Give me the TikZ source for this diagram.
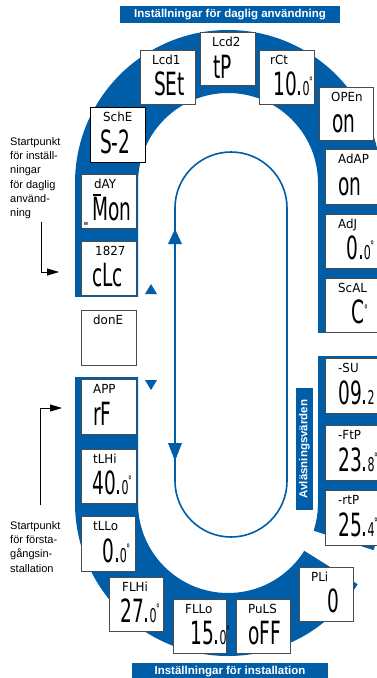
\documentclass[tikz,border=0pt]{standalone}
\usepackage{fontspec}
\setmainfont{Liberation Sans}
\newfontfamily\lcdS[FakeStretch=0.95]{DejaVu Sans}
\newfontfamily\lcdB[FakeStretch=0.58]{DejaVu Sans}
\usetikzlibrary{arrows.meta,calc}
\definecolor{ringblue}{RGB}{0,93,168}
\newcommand\dg[2]{#1.{\fontsize{19}{19}\selectfont #2}\kern-0.5pt\raisebox{9pt}{\fontsize{13}{13}\selectfont °}}
\newcommand\dn[2]{#1.{\fontsize{19}{19}\selectfont #2}}
\begin{document}
\begin{tikzpicture}[x=1pt,y=-1pt,
  lcd/.style={draw=black!70, fill=white, line width=0.9pt, inner sep=0pt, anchor=north west},
  lbl/.style={font=\lcdS\fontsize{12.5}{12.5}\selectfont, inner sep=0pt, anchor=north west},
  val/.style={font=\lcdB\fontsize{32}{32}\selectfont, inner sep=0pt, anchor=base west},
  bandlabel/.style={fill=ringblue, text=white, font=\bfseries\fontsize{11.5}{12}\selectfont, inner sep=0pt},
  sidetext/.style={font=\fontsize{11}{14.3}\selectfont, align=left, inner sep=0pt, anchor=north west},
  startarrow/.style={draw=black, line width=0.9pt, -{Triangle[length=12pt,width=7pt]}},
  track/.style={draw=ringblue, line width=1.6pt}
]
\useasboundingbox (0,0) rectangle (377,678);
\coordinate (tc) at (228,183);
\coordinate (bc) at (228,503);
% ring
\fill[ringblue, even odd rule]
  (75,503) -- (75,183) arc[start angle=180,end angle=360,radius=153] -- (381,503) arc[start angle=0,end angle=180,radius=153] -- cycle
  (138,503) -- (138,183) arc[start angle=180,end angle=360,radius=90] -- (318,503) arc[start angle=0,end angle=180,radius=90] -- cycle;
% gaps
\fill[white] (70,297) rectangle (141,377);
\fill[white] (315,333) rectangle (390,356);
\fill[white] ($(bc)+(18:86)$) -- ($(bc)+(18:180)$) -- ($(bc)+(32:180)$) -- ($(bc)+(32:86)$) -- cycle;
% inner track
\draw[track] (175,481) -- (175,208) arc[start angle=180,end angle=360,radius=56] -- (287,481) arc[start angle=0,end angle=180,radius=56] -- cycle;
\fill[ringblue] (175,229) -- (168,244) -- (182,244) -- cycle;
\fill[ringblue] (175,461) -- (168,443) -- (182,443) -- cycle;
\fill[ringblue] (151,284) -- (145,294) -- (157,294) -- cycle;
\fill[ringblue] (151,390) -- (145,380) -- (157,380) -- cycle;
% labels
\node[bandlabel, minimum width=220pt, minimum height=17pt] (toplbl) at (230,14.5) {Inställningar för daglig användning};
\node[bandlabel, minimum width=196pt, minimum height=17pt] (botlbl) at (230,671.5) {Inställningar för installation};
\node[bandlabel, font=\bfseries\fontsize{11.5}{12}\selectfont, minimum width=122pt, minimum height=17pt, rotate=90] (sidelbl) at (304.5,449) {Avläsningsvärden};
% boxes
\node[lcd, minimum width=55pt, minimum height=54pt] (lcd1) at (140,50) {};
\node[lbl] (lcd1s) at ($(lcd1.north west)+(12,5)$) {Lcd1};
\node[val] (lcd1v) at ($(lcd1.south west)+(14,-9)$) {SEt};

\node[lcd, minimum width=55pt, minimum height=53pt] (lcd2) at (200,32) {};
\node[lbl] (lcd2s) at ($(lcd2.north west)+(12,5)$) {Lcd2};
\node[val] (lcd2v) at ($(lcd2.south west)+(13,-7)$) {tP};

\node[lcd, minimum width=55pt, minimum height=54pt] (rct) at (259,50) {};
\node[lbl] (rcts) at ($(rct.north west)+(11,5)$) {rCt};
\node[val] (rctv) at ($(rct.south west)+(14,-9)$) {\dg{10}{0}};

\node[lcd, minimum width=54pt, minimum height=53pt] (open) at (319,87) {};
\node[lbl] (opens) at ($(open.north west)+(12,5)$) {OPEn};
\node[val] (openv) at ($(open.south west)+(13,-8)$) {on};

\node[lcd, minimum width=60pt, minimum height=55pt] (adap) at (325,149) {};
\node[lbl] (adaps) at ($(adap.north west)+(13,5)$) {AdAP};
\node[val] (adapv) at ($(adap.south west)+(13,-9)$) {on};

\node[lcd, minimum width=60pt, minimum height=54pt] (adj) at (325,214) {};
\node[lbl] (adjs) at ($(adj.north west)+(13,5)$) {AdJ};
\node[val] (adjv) at ($(adj.south west)+(21,-9)$) {\dg{0}{0}};

\node[lcd, minimum width=60pt, minimum height=54pt] (scal) at (325,278) {};
\node[lbl] (scals) at ($(scal.north west)+(13,5)$) {ScAL};
\node[val] (scalv) at ($(scal.south west)+(26,-9)$) {C\raisebox{9pt}{\fontsize{13}{13}\selectfont °}};

\node[lcd, minimum width=60pt, minimum height=55pt] (su) at (325,358) {};
\node[lbl] (sus) at ($(su.north west)+(13,5)$) {-SU};
\node[val] (suv) at ($(su.south west)+(13,-9)$) {\dn{09}{2}};

\node[lcd, minimum width=60pt, minimum height=55pt] (ftp) at (325,425) {};
\node[lbl] (ftps) at ($(ftp.north west)+(13,5)$) {-FtP};
\node[val] (ftpv) at ($(ftp.south west)+(13,-9)$) {\dg{23}{8}};

\node[lcd, minimum width=60pt, minimum height=55pt] (rtp) at (325,490) {};
\node[lbl] (rtps) at ($(rtp.north west)+(13,5)$) {-rtP};
\node[val] (rtpv) at ($(rtp.south west)+(13,-9)$) {\dg{25}{4}};

\node[lcd, minimum width=54pt, minimum height=54pt] (pli) at (299,567) {};
\node[lbl] (plis) at ($(pli.north west)+(12,5)$) {PLi};
\node[val] (pliv) at ($(pli.south west)+(28,-9)$) {0};

\node[lcd, minimum width=54pt, minimum height=54pt] (puls) at (236,599) {};
\node[lbl] (pulss) at ($(puls.north west)+(12,5)$) {PuLS};
\node[val] (pulsv) at ($(puls.south west)+(12,-9)$) {oFF};

\node[lcd, minimum width=53pt, minimum height=54pt] (fllo) at (173,599) {};
\node[lbl] (fllos) at ($(fllo.north west)+(12,5)$) {FLLo};
\node[val] (fllov) at ($(fllo.south west)+(17,-9)$) {\dg{15}{0}};

\node[lcd, minimum width=54pt, minimum height=54pt] (flhi) at (109,577) {};
\node[lbl] (flhis) at ($(flhi.north west)+(13,5)$) {FLHi};
\node[val] (flhiv) at ($(flhi.south west)+(11,-9)$) {\dg{27}{0}};

\node[lcd, minimum width=54pt, minimum height=55pt] (tllo) at (81,516) {};
\node[lbl] (tllos) at ($(tllo.north west)+(12,5)$) {tLLo};
\node[val] (tllov) at ($(tllo.south west)+(21,-9)$) {\dg{0}{0}};

\node[lcd, minimum width=55pt, minimum height=54pt] (tlhi) at (81,449) {};
\node[lbl] (tlhis) at ($(tlhi.north west)+(12,5)$) {tLHi};
\node[val] (tlhiv) at ($(tlhi.south west)+(11,-9)$) {\dg{40}{0}};

\node[lcd, minimum width=55pt, minimum height=55pt] (app) at (81,379) {};
\node[lbl] (apps) at ($(app.north west)+(12,5)$) {APP};
\node[val] (appv) at ($(app.south west)+(12,-9)$) {rF};

\node[lcd, minimum width=55pt, minimum height=55pt] (done) at (81,310) {};
\node[lbl] (dones) at ($(done.north west)+(12,5)$) {donE};

\node[lcd, minimum width=55pt, minimum height=54pt] (clc) at (81,241) {};
\node[lbl] (clcs) at ($(clc.north west)+(14,5)$) {1827};
\node[val] (clcv) at ($(clc.south west)+(11,-9)$) {cLc};

\node[lcd, minimum width=55pt, minimum height=54pt] (day) at (81,174) {};
\node[lbl] (days) at ($(day.north west)+(13,5)$) {dAY};
\node[val] (dayv) at ($(day.south west)+(11,-8)$) {Mon};
\draw[line width=1.6pt] (93,195) -- (101,195);
\node[inner sep=0pt, font=\bfseries\fontsize{4.5}{5}\selectfont, anchor=south west] (daym) at ($(day.south west)+(3,-3)$) {M};

\node[lcd, draw=black, minimum width=55pt, minimum height=55pt] (sche) at (90,107) {};
\node[lbl] (sches) at ($(sche.north west)+(13,5)$) {SchE};
\node[val] (schev) at ($(sche.south west)+(10,-9)$) {S-2};

% side texts
\node[sidetext] (st1) at (10,137) {Startpunkt\\för inställ-\\ningar\\för daglig\\använd-\\ning};
\node[sidetext] (st2) at (10,521) {Startpunkt\\för första-\\gångsin-\\stallation};
\coordinate (s1a) at (41,222);
\coordinate (s1b) at (59,272);
\coordinate (s2a) at (40,505);
\coordinate (s2b) at (62,408);
\draw[startarrow] (s1a) |- (s1b);
\draw[startarrow] (s2a) |- (s2b);
\end{tikzpicture}
\end{document}
